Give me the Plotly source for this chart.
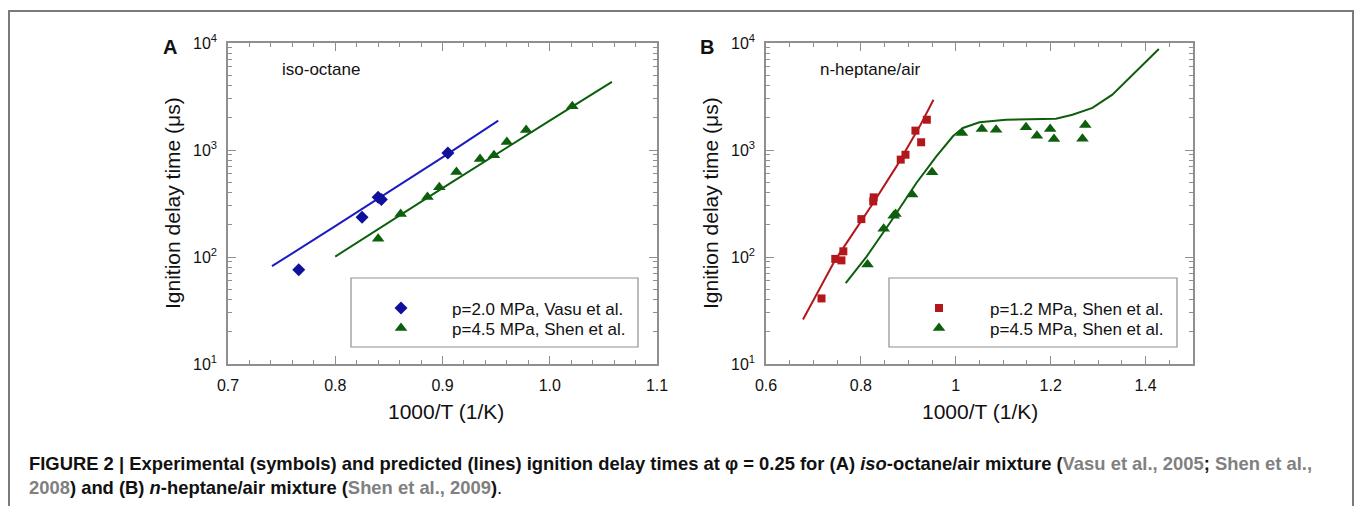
import plotly.graph_objects as go

W, H = 1355, 506

# ---- panel A: iso-octane (1000/T in 1/K, ignition delay in microseconds)
a_vasu_x = [0.766, 0.825, 0.840, 0.843, 0.905]
a_vasu_y = [76, 235, 361, 344, 938]
a_shen_x = [0.840, 0.861, 0.886, 0.897, 0.913, 0.935, 0.948, 0.960, 0.978, 1.021]
a_shen_y = [148, 252, 364, 448, 622, 824, 891, 1189, 1538, 2560]
a_pred20_x = [0.741, 0.800, 0.900, 0.952]
a_pred20_y = [82, 194, 853, 1880]
a_pred45_x = [0.800, 0.900, 1.000, 1.058]
a_pred45_y = [101, 440, 1880, 4330]

# ---- panel B: n-heptane/air
b_shen12_x = [0.717, 0.746, 0.759, 0.763, 0.801, 0.826, 0.827, 0.884, 0.894, 0.915, 0.927, 0.939]
b_shen12_y = [41, 96, 93, 113, 226, 331, 361, 813, 903, 1517, 1181, 1919]
b_shen45_x = [0.814, 0.848, 0.869, 0.873, 0.908, 0.950, 1.013, 1.055, 1.085, 1.148,
              1.171, 1.199, 1.207, 1.267, 1.273]
b_shen45_y = [85, 184, 243, 252, 383, 618, 1443, 1570, 1549, 1629,
              1361, 1570, 1268, 1276, 1714]
b_pred12_x = [0.678, 0.720, 0.746, 0.777, 0.826, 0.875, 0.924, 0.953]
b_pred12_y = [26, 57, 94, 151, 320, 703, 1663, 2951]
b_pred45_x = [0.768, 0.812, 0.861, 0.917, 0.959, 0.994, 1.015, 1.050, 1.106, 1.176,
              1.211, 1.246, 1.288, 1.330, 1.372, 1.428]
b_pred45_y = [57, 101, 208, 492, 873, 1343, 1607, 1815, 1920, 1950,
              1963, 2138, 2473, 3290, 5060, 8790]

ytick_vals = [10, 100, 1000, 10000]
ytick_text = ["10<sup>1</sup>", "10<sup>2</sup>", "10<sup>3</sup>", "10<sup>4</sup>"]
a_xtick_vals = [0.7, 0.8, 0.9, 1.0, 1.1]
a_xtick_text = ["0.7", "0.8", "0.9", "1.0", "1.1"]
b_xtick_vals = [0.6, 0.8, 1.0, 1.2, 1.4]
b_xtick_text = ["0.6", "0.8", "1", "1.2", "1.4"]

BLUE = "#1c1cc0"
BLUE_M = "#10109c"
GREEN = "#0d5e0d"
RED = "#b3161b"
AXC = "#8f8f8f"
FONT = "Liberation Sans, Arial, sans-serif"


def px(x):
    return x / W


def py(y):
    return 1 - y / H


fig = go.Figure()

# panel A
fig.add_trace(go.Scatter(x=a_pred20_x, y=a_pred20_y, mode="lines", line=dict(color=BLUE, width=2),
                         showlegend=False, xaxis="x", yaxis="y"))
fig.add_trace(go.Scatter(x=a_pred45_x, y=a_pred45_y, mode="lines", line=dict(color=GREEN, width=2),
                         showlegend=False, xaxis="x", yaxis="y"))
fig.add_trace(go.Scatter(x=a_vasu_x, y=a_vasu_y, mode="markers", name="p=2.0 MPa, Vasu et al.",
                         marker=dict(symbol="diamond", size=10, color=BLUE_M), legend="legend",
                         xaxis="x", yaxis="y"))
fig.add_trace(go.Scatter(x=a_shen_x, y=a_shen_y, mode="markers", name="p=4.5 MPa, Shen et al.",
                         marker=dict(symbol="triangle-up", size=11, color=GREEN), legend="legend2",
                         xaxis="x", yaxis="y"))

# panel B
fig.add_trace(go.Scatter(x=b_pred12_x, y=b_pred12_y, mode="lines", line=dict(color=RED, width=2),
                         showlegend=False, xaxis="x2", yaxis="y2"))
fig.add_trace(go.Scatter(x=b_pred45_x, y=b_pred45_y, mode="lines", line=dict(color=GREEN, width=2),
                         showlegend=False, xaxis="x2", yaxis="y2"))
fig.add_trace(go.Scatter(x=b_shen12_x, y=b_shen12_y, mode="markers", name="p=1.2 MPa, Shen et al.",
                         marker=dict(symbol="square", size=8, color=RED), legend="legend3",
                         xaxis="x2", yaxis="y2"))
fig.add_trace(go.Scatter(x=b_shen45_x, y=b_shen45_y, mode="markers", name="p=4.5 MPa, Shen et al.",
                         marker=dict(symbol="triangle-up", size=11, color=GREEN), legend="legend4",
                         xaxis="x2", yaxis="y2"))

ax_common = dict(showline=True, linecolor=AXC, linewidth=1.5, mirror="allticks", ticks="inside",
                 ticklen=8, tickwidth=1.2, tickcolor=AXC, showgrid=False, zeroline=False,
                 automargin=False, tickfont=dict(size=16, color="#111111"), ticklabelstandoff=6)
minor_y = [m * d for d in (10, 100, 1000) for m in range(2, 10)]

yaxis_common = dict(ax_common, type="log", range=[1, 4], tickmode="array", tickvals=ytick_vals,
                    ticktext=ytick_text,
                    minor=dict(ticks="inside", ticklen=4, tickcolor=AXC, tickmode="array",
                               tickvals=minor_y))


def leg(x, y):
    return dict(x=px(x), y=py(y), xanchor="left", yanchor="top", bgcolor="rgba(0,0,0,0)",
                borderwidth=0, font=dict(size=17, color="#111111"), itemwidth=92)


top, bottom = py(43), py(364)
fig.update_layout(
    width=W, height=H, margin=dict(l=0, r=0, t=0, b=0, pad=0, autoexpand=False),
    paper_bgcolor="white", plot_bgcolor="white",
    font=dict(family=FONT, color="#111111"),
    xaxis=dict(ax_common, domain=[px(228), px(657)], range=[0.7, 1.1], anchor="y",
               tickmode="array", tickvals=a_xtick_vals, ticktext=a_xtick_text,
               minor=dict(ticks="inside", ticklen=4, tickcolor=AXC, dtick=0.02, tick0=0.7)),
    yaxis=dict(yaxis_common, domain=[bottom, top], anchor="x"),
    xaxis2=dict(ax_common, domain=[px(766), px(1193)], range=[0.6, 1.5], anchor="y2",
                tickmode="array", tickvals=b_xtick_vals, ticktext=b_xtick_text,
                minor=dict(ticks="inside", ticklen=4, tickcolor=AXC, dtick=0.05, tick0=0.6)),
    yaxis2=dict(yaxis_common, domain=[bottom, top], anchor="x2"),
    legend=leg(350, 290.5),
    legend2=leg(350, 310.5),
    legend3=leg(888, 290.5),
    legend4=leg(888, 310.5),
)

shapes = [
    # outer figure frame
    dict(type="rect", xref="paper", yref="paper", x0=px(9), x1=px(1353), y0=-0.1, y1=py(11),
         line=dict(color="#7a7a7a", width=2)),
    # legend boxes
    dict(type="rect", xref="paper", yref="paper", x0=px(351), x1=px(638), y0=py(347), y1=py(278),
         line=dict(color=AXC, width=1.2)),
    dict(type="rect", xref="paper", yref="paper", x0=px(889), x1=px(1177), y0=py(347), y1=py(278),
         line=dict(color=AXC, width=1.2)),
]
fig.update_layout(shapes=shapes)


def note(x, y, text, size=17, xanchor="center", **kw):
    fig.add_annotation(x=px(x), y=py(y), xref="paper", yref="paper", text=text, showarrow=False,
                       xanchor=xanchor, yanchor="middle",
                       font=dict(size=size, family=FONT, color="#111111"), **kw)


note(170, 47, "<b>A</b>", size=20)
note(707, 47, "<b>B</b>", size=20)
note(280, 70, "iso-octane", xanchor="left")
note(818, 70, "n-heptane/air", xanchor="left")
note(172, 203, "Ignition delay time (μs)", size=21, textangle=-90)
note(710, 203, "Ignition delay time (μs)", size=21, textangle=-90)
note(446, 411, "1000/T (1/K)", size=21)
note(980, 411, "1000/T (1/K)", size=21)

GRAY = "#808080"
line1 = ("<b>FIGURE 2 | Experimental (symbols) and predicted (lines) ignition delay times at "
         "φ = 0.25 for (A) <i>iso</i>-octane/air mixture (<span style='color:%s'>Vasu et al., 2005</span>; "
         "<span style='color:%s'>Shen et al.,</span></b>" % (GRAY, GRAY))
line2 = ("<b><span style='color:%s'>2008</span>) and (B) <i>n</i>-heptane/air mixture "
         "(<span style='color:%s'>Shen et al., 2009</span>)</b>." % (GRAY, GRAY))
note(27, 463, line1, size=18.4, xanchor="left")
note(27, 487, line2, size=18.4, xanchor="left")

fig.write_html("out.html", config={"displayModeBar": False},
               post_script="document.body.style.margin='0';"
               "document.body.style.overflow='hidden';")
